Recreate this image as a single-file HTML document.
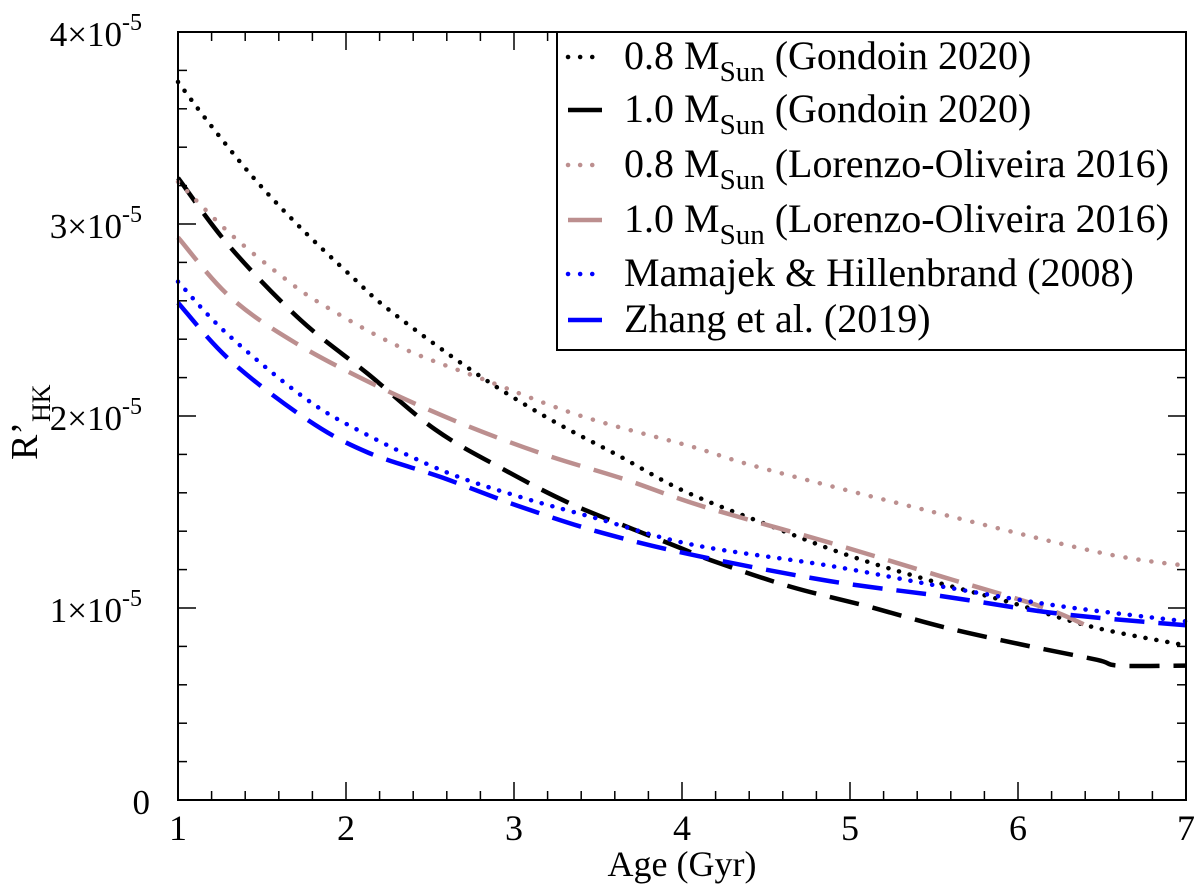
<!DOCTYPE html>
<html><head><meta charset="utf-8"><style>
html,body{margin:0;padding:0;background:#fff;}
svg{display:block;font-family:"Liberation Serif",serif;}
</style></head><body>
<svg id="chart" width="1200" height="894"></svg>
<script>
const xTicks=[1,2,3,4,5,6,7];
const yTicks=[0,1,2,3,4];
const seriesNames=["0.8 M_Sun (Gondoin 2020)","1.0 M_Sun (Gondoin 2020)","0.8 M_Sun (Lorenzo-Oliveira 2016)","1.0 M_Sun (Lorenzo-Oliveira 2016)","Mamajek & Hillenbrand (2008)","Zhang et al. (2019)"];
const g08X=[1,1.19,1.45,1.73,2.03,2.26,2.76,3.2,3.63,4.01,4.49,4.97,5.45,5.95,6.45,6.97];
const g08Y=[3.74,3.52,3.24,2.98,2.73,2.55,2.23,1.99,1.79,1.61,1.44,1.28,1.15,1.03,0.90,0.81];
const g10X=[1,1.31,1.73,2.13,2.53,2.92,3.32,3.71,3.97,4.2,4.65,5.1,5.56,6.02,6.47,6.6,7];
const g10Y=[3.24,2.88,2.50,2.22,1.93,1.73,1.55,1.41,1.32,1.24,1.11,1.01,0.90,0.81,0.73,0.70,0.70];
const l08X=[1,1.31,1.63,1.86,2.32,2.82,3.4,4.06,4.47,5.45,6.48,7];
const l08Y=[3.22,2.95,2.72,2.58,2.36,2.19,2.00,1.84,1.73,1.51,1.29,1.22];
const l10X=[1,1.31,1.7,2.2,2.69,3.18,3.66,4.12,4.88,5.56,6.13,6.43];
const l10Y=[2.93,2.62,2.38,2.15,1.96,1.80,1.67,1.53,1.34,1.16,1.01,0.90];
const mhX=[1,1.29,1.76,2.13,2.59,3.03,3.48,4.06,4.88,5.56,6.25,7];
const mhY=[2.70,2.43,2.09,1.90,1.71,1.58,1.47,1.33,1.22,1.11,1.01,0.93];
const zX=[1,1.31,1.77,2.13,2.57,3.03,3.53,4.1,4.88,5.56,6.25,7];
const zY=[2.59,2.29,1.98,1.81,1.68,1.53,1.39,1.27,1.14,1.06,0.97,0.91];

const L=178,R=1186,T=32,B=800;
const sx=v=>L+(v-1)/6*(R-L);
const sy=v=>B-v/4*(B-T);
const svg=document.getElementById('chart');
const NS='http://www.w3.org/2000/svg';
function mk(tag,attrs,parent){const e=document.createElementNS(NS,tag);for(const k in attrs)e.setAttribute(k,attrs[k]);(parent||svg).appendChild(e);return e;}
function smooth(xs,ys){
 const P=xs.map((v,i)=>[sx(v),sy(ys[i])]);
 let d='M'+P[0][0].toFixed(1)+','+P[0][1].toFixed(1);
 for(let i=0;i<P.length-1;i++){
  const p0=P[Math.max(0,i-1)],p1=P[i],p2=P[i+1],p3=P[Math.min(P.length-1,i+2)];
  const c1=[p1[0]+(p2[0]-p0[0])/6,p1[1]+(p2[1]-p0[1])/6];
  const c2=[p2[0]-(p3[0]-p1[0])/6,p2[1]-(p3[1]-p1[1])/6];
  d+=' C'+c1.map(n=>n.toFixed(1)).join(',')+' '+c2.map(n=>n.toFixed(1)).join(',')+' '+p2.map(n=>n.toFixed(1)).join(',');
 }
 return d;
}

const styles=[
 {x:g08X,y:g08Y,c:"#000",d:"0.1 11",n:"series-gondoin-08"},
 {x:g10X,y:g10Y,c:"#000",d:"30 14",n:"series-gondoin-10"},
 {x:l08X,y:l08Y,c:"#bc8f8f",d:"0.1 13",n:"series-lorenzo-08"},
 {x:l10X,y:l10Y,c:"#bc8f8f",d:"30 14",n:"series-lorenzo-10"},
 {x:mhX,y:mhY,c:"#0000ff",d:"0.1 11",n:"series-mamajek"},
 {x:zX,y:zY,c:"#0000ff",d:"30 14",n:"series-zhang"}];
styles.forEach(s=>{
 const p=mk('path',{d:smooth(s.x,s.y),fill:'none',stroke:s.c,'stroke-width':4.5,'stroke-dasharray':s.d,'stroke-linecap':s.d.startsWith('0.1')?'round':'butt'});
 
 
});

const fr=mk('rect',{x:L,y:T,width:R-L,height:B-T,fill:'none',stroke:'#000','stroke-width':2});



for(let v=1;v<=7.001;v+=0.2){
 const major=Math.abs(v-Math.round(v))<1e-6;const len=major?18:9;const x=sx(v);
 mk('line',{x1:x,y1:B,x2:x,y2:B-len,stroke:'#000','stroke-width':1.5});
 mk('line',{x1:x,y1:T,x2:x,y2:T+len,stroke:'#000','stroke-width':1.5});
}
for(let v=0;v<=4.001;v+=0.2){
 const major=Math.abs(v-Math.round(v))<1e-6;const len=major?18:9;const y=sy(v);
 mk('line',{x1:L,y1:y,x2:L+len,y2:y,stroke:'#000','stroke-width':1.5});
 mk('line',{x1:R,y1:y,x2:R-len,y2:y,stroke:'#000','stroke-width':1.5});
}
xTicks.forEach(v=>{
 const t=mk('text',{x:sx(v),y:840,'text-anchor':'middle','font-size':36});t.textContent=v;
 
 
});
yTicks.forEach(v=>{
 const t=mk('text',{x:v===0?150:142,y:sy(v)+14,'text-anchor':'end','font-size':35});
 if(v===0){t.textContent='0';}else{
  t.textContent=v+'\u00d710';
  const s=mk('tspan',{dy:-16,'font-size':24},t);s.textContent='-5';
 }
 
 
});
const xl=mk('text',{x:682,y:876,'text-anchor':'middle','font-size':36});xl.textContent='Age (Gyr)';


const yl=mk('text',{x:0,y:0,'font-size':38,transform:'translate(37,460) rotate(-90)'});
yl.textContent="R\u2019";
const ys=mk('tspan',{dy:13,'font-size':26},yl);ys.textContent='HK';



const lg=mk('g',{});


mk('rect',{x:557,y:T,width:R-557,height:318,fill:'#fff',stroke:'#000','stroke-width':2},lg);
const ly=[57,110,165,220,274,320];
styles.forEach((s,i)=>{
 const g=mk('g',{},lg);
 
 
 mk('line',{x1:568,y1:ly[i],x2:602,y2:ly[i],stroke:s.c,'stroke-width':4.5,'stroke-dasharray':s.d.startsWith('0.1')?'0.1 12':'none','stroke-linecap':s.d.startsWith('0.1')?'round':'butt'},g);
 const t=mk('text',{x:624,y:ly[i]+12,'font-size':40},g);
 const nm=seriesNames[i];
 if(nm.includes('M_Sun')){
  const parts=nm.split('M_Sun');
  t.appendChild(document.createTextNode(parts[0]+'M'));
  const sb=mk('tspan',{dy:12,'font-size':29},t);sb.textContent='Sun';
  const rest=mk('tspan',{dy:-12},t);rest.textContent=' '+parts[1].trim();
 } else t.textContent=nm;
});
</script>
</body></html>
